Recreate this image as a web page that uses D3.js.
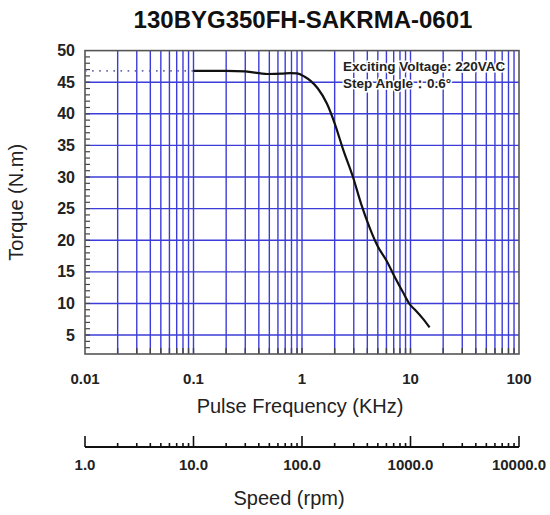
<!DOCTYPE html>
<html>
<head>
<meta charset="utf-8">
<script src="https://cdn.jsdelivr.net/npm/d3@7"></script>
<style>
  body { margin: 0; background: #fff; }
  svg { display: block; font-family: Arial, "Liberation Sans", sans-serif; }
</style>
</head>
<body>
<div class="chart"></div>
<script>
  //Chart data
  var title = '130BYG350FH-SAKRMA-0601';
  var freq_khz = [0.1, 0.2, 0.3, 0.48, 0.65, 0.78, 0.9, 1.05, 1.2, 1.4, 1.7, 2.0, 2.4, 2.95, 3.5, 4.2, 5.0, 6.0, 7.2, 8.5, 9.9, 11, 13, 15];
  var torque_nm = [46.8, 46.8, 46.7, 46.3, 46.35, 46.45, 46.4, 45.9, 45.2, 44.0, 41.6, 38.5, 34.3, 30.0, 25.8, 22.0, 19.0, 16.8, 14.1, 11.8, 9.8, 9.0, 7.6, 6.2];
  var ref_torque = 46.8;
  var freq_ticks = [0.01, 0.1, 1, 10, 100];
  var freq_labels = ['0.01', '0.1', '1', '10', '100'];
  var torque_ticks = [5, 10, 15, 20, 25, 30, 35, 40, 45, 50];
  var speed_ticks = [1, 10, 100, 1000, 10000];
  var speed_labels = ['1.0', '10.0', '100.0', '1000.0', '10000.0'];
  var notes = ['Exciting Voltage: 220VAC', 'Step Angle\uFF1A0.6\u00B0'];

  (function(){
    var width = 550, height = 515;
    var pl = 85, pr = 519, pt = 50.6, pb = 354;
    var gridColor = '#3c3cd8';

    var svg = d3.select('.chart').append('svg').attr('width', width).attr('height', height);

    var x = d3.scaleLog().domain([0.01, 100]).range([pl, pr]);
    var y = d3.scaleLinear().domain([2, 50]).range([pb, pt]);
    var xs = d3.scaleLog().domain([1, 10000]).range([pl, pr]);

    //1..9 per decade
    var logValues = function(lo, hi){
      var out = [];
      for(var d = lo; d < hi * 0.999; d *= 10){
        for(var k = 1; k < 10; k++) out.push(d * k);
      }
      out.push(hi);
      return out;
    };
    var xGrid = logValues(0.01, 100);

    //Title
    svg.append('text').attr('x', (pl + pr) / 2 + 1).attr('y', 28)
      .attr('text-anchor', 'middle').style('font-size', '24px').style('font-weight', 'bold')
      .attr('fill', '#111').text(title);

    //Grid
    var grid = svg.append('g');
    grid.selectAll('.vg').data(xGrid.slice(1, -1)).enter().append('line')
      .attr('x1', function(d){ return x(d); }).attr('x2', function(d){ return x(d); })
      .attr('y1', pt).attr('y2', pb)
      .attr('stroke', gridColor).attr('stroke-width', 1.4);
    grid.selectAll('.hg').data(torque_ticks.slice(0, -1)).enter().append('line')
      .attr('x1', pl).attr('x2', pr)
      .attr('y1', function(d){ return y(d); }).attr('y2', function(d){ return y(d); })
      .attr('stroke', gridColor).attr('stroke-width', 1.4);

    //Bottom ticks (dark, inward)
    grid.selectAll('.bt').data(xGrid.slice(1, -1)).enter().append('line')
      .attr('x1', function(d){ return x(d); }).attr('x2', function(d){ return x(d); })
      .attr('y1', pb).attr('y2', pb - 6)
      .attr('stroke', '#444').attr('stroke-width', 1.4);
    //Left minor ticks every 1 N.m
    grid.selectAll('.lt').data(d3.range(3, 50)).enter().append('line')
      .attr('x1', pl).attr('x2', pl + 5)
      .attr('y1', function(d){ return y(d); }).attr('y2', function(d){ return y(d); })
      .attr('stroke', '#444').attr('stroke-width', 1.2);

    //Frame
    svg.append('rect').attr('x', pl).attr('y', pt).attr('width', pr - pl).attr('height', pb - pt)
      .attr('fill', 'none').attr('stroke', '#555').attr('stroke-width', 1.6);

    //Reference dotted line
    svg.append('line').attr('x1', x(0.01)).attr('x2', x(freq_khz[0]))
      .attr('y1', y(ref_torque)).attr('y2', y(ref_torque))
      .attr('stroke', '#6a6aa8').attr('stroke-width', 1.6).attr('stroke-dasharray', '1.6,5.5');

    //Torque curve
    var line = d3.line().x(function(d){ return x(d[0]); }).y(function(d){ return y(d[1]); }).curve(d3.curveMonotoneX);
    svg.append('path').datum(d3.zip(freq_khz, torque_nm)).attr('d', line)
      .attr('fill', 'none').attr('stroke', '#111').attr('stroke-width', 2.2);

    //Notes
    svg.selectAll('.note').data(notes).enter().append('text')
      .attr('x', 343).attr('y', function(d, i){ return 71 + i * 17; })
      .style('font-size', '13.5px').style('font-weight', 'bold')
      .attr('fill', '#222').attr('stroke', '#fff').attr('stroke-width', 3).style('paint-order', 'stroke')
      .text(function(d){ return d; });

    //Y labels
    svg.selectAll('.yl').data(torque_ticks).enter().append('text')
      .attr('x', 75).attr('y', function(d){ return y(d) + 5.5; })
      .attr('text-anchor', 'end').style('font-size', '16px').style('font-weight', 'bold')
      .attr('fill', '#222').text(function(d){ return d; });
    svg.append('text').attr('transform', 'translate(23,' + ((pt + pb) / 2) + ') rotate(-90)')
      .attr('text-anchor', 'middle').style('font-size', '20px').attr('fill', '#222')
      .text('Torque  (N.m)');

    //X labels
    svg.selectAll('.xl').data(freq_ticks).enter().append('text')
      .attr('x', function(d){ return x(d); }).attr('y', 384)
      .attr('text-anchor', 'middle').style('font-size', '15px').style('font-weight', 'bold')
      .attr('fill', '#222').text(function(d, i){ return freq_labels[i]; });
    svg.append('text').attr('x', (pl + pr) / 2 - 2).attr('y', 413)
      .attr('text-anchor', 'middle').style('font-size', '20px').attr('fill', '#222')
      .text('Pulse Frequency (KHz)');

    //Speed axis
    var sg = svg.append('g');
    sg.append('line').attr('x1', pl).attr('x2', pr).attr('y1', 447).attr('y2', 447)
      .attr('stroke', '#111').attr('stroke-width', 2);
    sg.selectAll('.st').data(logValues(1, 10000)).enter().append('line')
      .attr('x1', function(d){ return xs(d); }).attr('x2', function(d){ return xs(d); })
      .attr('y1', 447).attr('y2', function(d){ return speed_ticks.indexOf(Math.round(d)) >= 0 ? 436 : 443; })
      .attr('stroke', '#111').attr('stroke-width', 1.6);
    sg.selectAll('.sl').data(speed_ticks).enter().append('text')
      .attr('x', function(d){ return xs(d); }).attr('y', 470)
      .attr('text-anchor', 'middle').style('font-size', '15px').style('font-weight', 'bold')
      .attr('fill', '#222').text(function(d, i){ return speed_labels[i]; });
    svg.append('text').attr('x', (pl + pr) / 2 - 13).attr('y', 505)
      .attr('text-anchor', 'middle').style('font-size', '20px').attr('fill', '#222')
      .text('Speed (rpm)');
  })();
</script>
</body>
</html>
